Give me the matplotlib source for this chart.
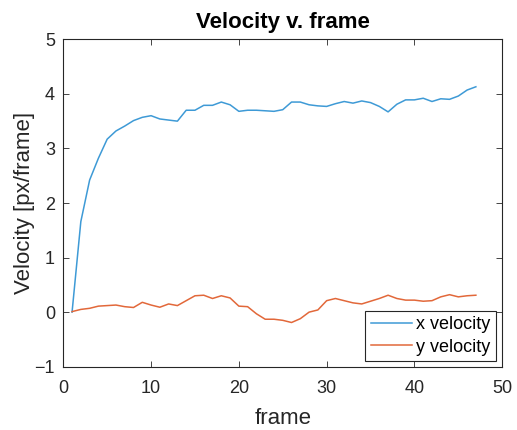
import numpy as np
import matplotlib.pyplot as plt

plt.rcParams['font.family'] = ['Liberation Sans', 'DejaVu Sans']

frames = np.arange(1, 48)

x_velocity = [0.00, 1.66, 2.42, 2.82, 3.17, 3.32, 3.41, 3.51, 3.57, 3.60,
              3.54, 3.52, 3.50, 3.70, 3.70, 3.79, 3.79, 3.85, 3.80, 3.68,
              3.70, 3.70, 3.69, 3.68, 3.71, 3.85, 3.85, 3.80, 3.78, 3.77,
              3.82, 3.86, 3.83, 3.87, 3.84, 3.77, 3.67, 3.81, 3.89, 3.89,
              3.92, 3.86, 3.91, 3.90, 3.96, 4.07, 4.13]

y_velocity = [0.01, 0.05, 0.07, 0.11, 0.12, 0.13, 0.10, 0.085, 0.18, 0.13,
              0.09, 0.15, 0.12, 0.21, 0.30, 0.31, 0.25, 0.30, 0.26, 0.11,
              0.10, -0.03, -0.13, -0.13, -0.15, -0.19, -0.12, 0.00, 0.04, 0.21,
              0.25, 0.21, 0.17, 0.15, 0.20, 0.25, 0.31, 0.25, 0.22, 0.22,
              0.20, 0.21, 0.28, 0.32, 0.28, 0.30, 0.31]

fig = plt.figure(figsize=(5.17, 4.30), dpi=100)
ax = fig.add_axes([0.1224, 0.1472, 0.849, 0.7614])

ax.plot(frames, x_velocity, color='#3E9AD6', lw=1.1, label='x velocity')
ax.plot(frames, y_velocity, color='#E2683A', lw=1.1, label='y velocity')

ax.set_xlim(0, 50)
ax.set_ylim(-1, 5)
ax.set_xticks(np.arange(0, 51, 10))
ax.set_yticks(np.arange(-1, 6, 1))

grey = '#262626'
for side in ax.spines.values():
    side.set_color(grey)
    side.set_linewidth(0.8)
ax.tick_params(direction='in', top=True, right=True, length=4, width=0.6,
               colors=grey, labelsize=13)
ax.tick_params(axis='x', pad=9.5)
ax.tick_params(axis='y', pad=6)

ax.set_title('Velocity v. frame', fontsize=16, fontweight='bold', pad=8)
ax.set_xlabel('frame', fontsize=16, color=grey, labelpad=8)
ax.set_ylabel('Velocity [px/frame]', fontsize=16, color=grey, labelpad=-0.5)

leg = ax.legend(loc='lower right', bbox_to_anchor=(0.985, 0.017),
                borderaxespad=0, fontsize=13, fancybox=False, framealpha=1,
                edgecolor=grey, handlelength=2.3, handletextpad=0.2,
                borderpad=0.3, labelspacing=0.3)
leg.get_frame().set_linewidth(0.8)

fig.savefig('out.png', dpi=100, facecolor='white')
